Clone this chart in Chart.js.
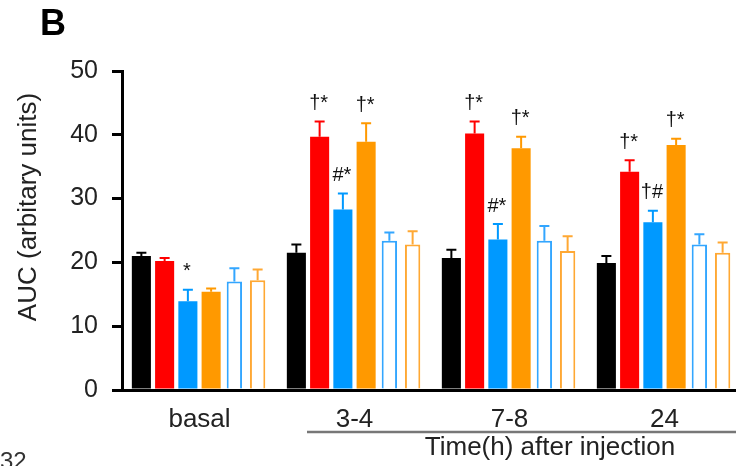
<!DOCTYPE html>
<html>
<head>
<meta charset="utf-8">
<script src="https://cdn.jsdelivr.net/npm/chart.js@4.4.1/dist/chart.umd.min.js"></script>
<style>
  html, body { margin: 0; padding: 0; overflow: hidden; background: #fff; }
</style>
</head>
<body>
<canvas id="chart" width="742" height="466"></canvas>
<script>
// data (means and upper error)
let groups = ['basal', '3-4', '7-8', '24'];
let yTicks = [0, 10, 20, 30, 40, 50];

let blackVals  = [21.0, 21.5, 20.7, 19.9];
let blackErr   = [0.5, 1.3, 1.3, 1.1];
let redVals    = [20.2, 39.7, 40.2, 34.2];
let redErr     = [0.5, 2.4, 1.9, 1.8];
let blueVals   = [13.9, 28.3, 23.6, 26.3];
let blueErr    = [1.8, 2.5, 2.4, 1.8];
let orangeVals = [15.4, 38.9, 37.9, 38.4];
let orangeErr  = [0.5, 2.9, 1.8, 1.0];
let blueOpenVals   = [17.0, 23.4, 23.4, 22.8];
let blueOpenErr    = [2.1, 1.3, 2.3, 1.6];
let orangeOpenVals = [17.2, 22.8, 21.8, 21.5];
let orangeOpenErr  = [1.7, 2.1, 2.3, 1.6];

// significance marks
let redMarks    = ['', '†*', '†*', '†*'];
let blueMarks   = ['*', '#*', '#*', '†#'];
let orangeMarks = ['', '†*', '†*', '†*'];

let font = "'Liberation Sans', Arial, sans-serif";

let errorBars = {
  id: 'errorBars',
  afterDatasetsDraw(chart) {
    let ctx = chart.ctx;
    let y = chart.scales.y;
    chart.data.datasets.forEach((ds, i) => {
      let meta = chart.getDatasetMeta(i);
      meta.data.forEach((bar, j) => {
        let top = y.getPixelForValue(ds.data[j] + ds.err[j]);
        ctx.save();
        ctx.strokeStyle = ds.errColor;
        ctx.lineWidth = 2;
        ctx.beginPath();
        ctx.moveTo(bar.x, bar.y);
        ctx.lineTo(bar.x, top);
        ctx.moveTo(bar.x - 5, top);
        ctx.lineTo(bar.x + 5, top);
        ctx.stroke();
        if (ds.marks && ds.marks[j]) {
          ctx.fillStyle = '#111';
          ctx.font = '20px ' + font;
          ctx.textAlign = 'center';
          ctx.textBaseline = 'middle';
          ctx.fillText(ds.marks[j], bar.x - 1, top - 18);
        }
        ctx.restore();
      });
    });
  },
  afterDraw(chart) {
    let ctx = chart.ctx;
    ctx.save();
    // panel letter
    ctx.fillStyle = '#000';
    ctx.font = 'bold 36px ' + font;
    ctx.textAlign = 'center';
    ctx.textBaseline = 'middle';
    ctx.fillText('B', 53, 25);
    // y title
    ctx.save();
    ctx.translate(29, 207);
    ctx.rotate(-Math.PI / 2);
    ctx.fillStyle = '#222';
    ctx.font = '26px ' + font;
    ctx.fillText('AUC (arbitary units)', 0, 0);
    ctx.restore();
    // time bracket
    ctx.strokeStyle = '#777';
    ctx.lineWidth = 2.5;
    ctx.beginPath();
    ctx.moveTo(307, 432);
    ctx.lineTo(chart.width, 432);
    ctx.stroke();
    ctx.fillStyle = '#222';
    ctx.font = '26px ' + font;
    ctx.fillText('Time(h) after injection', 550, 448);
    // page number fragment
    ctx.fillStyle = '#333';
    ctx.font = '24px ' + font;
    ctx.textAlign = 'left';
    ctx.textBaseline = 'top';
    ctx.fillText('32', 0, 450);
    ctx.restore();
  }
};

function filled(data, err, color, marks) {
  return { data: data, err: err, errColor: color, marks: marks,
    backgroundColor: color, borderWidth: 0, barPercentage: 0.82, categoryPercentage: 0.9 };
}
function open(data, err, color) {
  return { data: data, err: err, errColor: color,
    backgroundColor: '#fff', borderColor: color, borderWidth: 2,
    barPercentage: 0.66, categoryPercentage: 0.9 };
}

let chartCanv = document.getElementById('chart').getContext('2d');

let chart = new Chart(chartCanv, {
  type: 'bar',
  data: {
    labels: groups,
    datasets: [
      filled(blackVals, blackErr, '#000000', null),
      filled(redVals, redErr, '#ff0000', redMarks),
      filled(blueVals, blueErr, '#0099ff', blueMarks),
      filled(orangeVals, orangeErr, '#ff9900', orangeMarks),
      open(blueOpenVals, blueOpenErr, '#33a6ff'),
      open(orangeOpenVals, orangeOpenErr, '#ffa833')
    ]
  },
  options: {
    responsive: false,
    animation: false,
    layout: { padding: { top: 71, left: 0, right: 0, bottom: 0 } },
    plugins: { legend: { display: false }, tooltip: { enabled: false } },
    scales: {
      x: {
        grid: { display: false },
        border: { display: true, color: '#000', width: 3 },
        ticks: { color: '#222', font: { size: 26, family: font }, padding: 6 },
        afterFit(s) { s.height = 76; }
      },
      y: {
        min: 0, max: 50,
        afterBuildTicks(s) { s.ticks = yTicks.map(v => ({ value: v })); },
        ticks: { color: '#222', font: { size: 25, family: font }, padding: 14 },
        grid: { drawOnChartArea: false, drawTicks: true, tickLength: 10, lineWidth: 3, color: '#000' },
        border: { color: '#000', width: 3 },
        afterFit(s) { s.width = 122; }
      }
    }
  },
  plugins: [errorBars]
});
</script>
</body>
</html>
